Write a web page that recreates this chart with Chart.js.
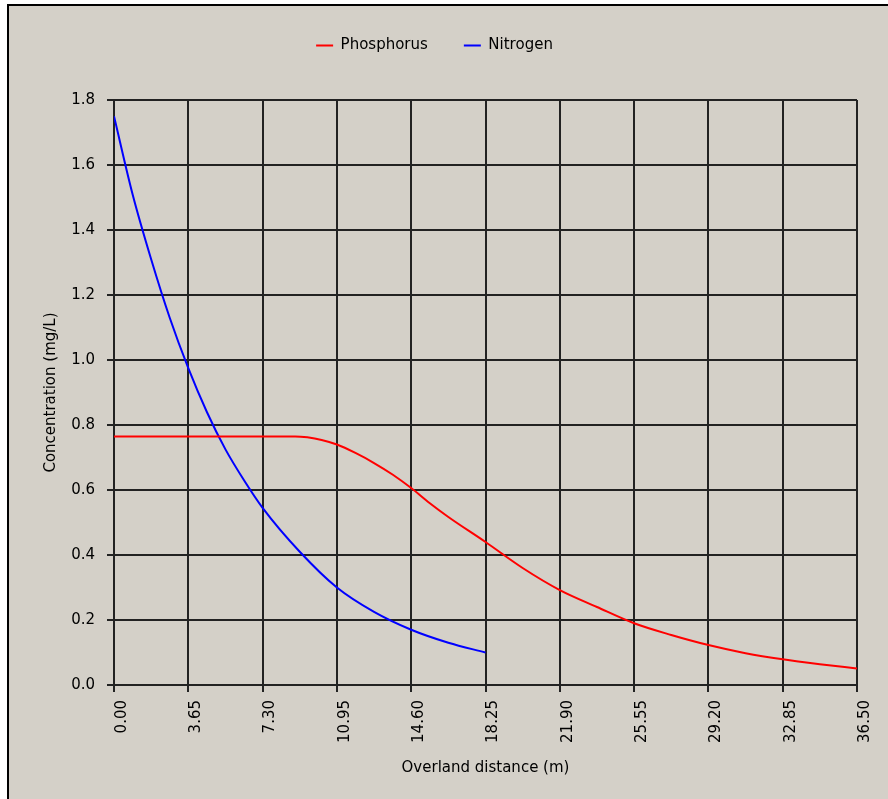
<!DOCTYPE html>
<html>
<head>
<meta charset="utf-8">
<title>Overland distance</title>
<script src="https://cdn.jsdelivr.net/npm/chart.js@4/dist/chart.umd.min.js"></script>
<style>
  html, body { margin: 0; padding: 0; background: #fff; }
  body { width: 888px; height: 799px; position: relative; overflow: hidden; }
  .frame {
    position: absolute; left: 7px; top: 4px; right: 0; bottom: 0;
    background: #d4d0c8;
    border-left: 2px solid #000;
    border-top: 2px solid #000;
  }
  #chart { position: absolute; left: 0; top: 0; }
</style>
</head>
<body>
<div class="frame"></div>
<canvas id="chart" width="888" height="799"></canvas>
<script>
// values
const nitrogenX = [0, 0.9125, 1.825, 2.7375, 3.65, 4.5625, 5.475, 6.3875, 7.3, 9.125, 10.95, 12.775, 14.6, 16.425, 18.25];
const nitrogenY = [1.75, 1.51, 1.31, 1.13, 0.975, 0.84, 0.725, 0.63, 0.545, 0.41, 0.30, 0.225, 0.17, 0.13, 0.10];

const phosphorusX = [0, 7.3, 8.9, 9.5, 10.2, 10.95, 11.86, 12.775, 13.7, 14.6, 15.5, 16.425, 18.25, 20.075, 21.9, 23.725, 25.55, 27.375, 29.2, 31.025, 32.85, 34.675, 36.5];
const phosphorusY = [0.765, 0.765, 0.765, 0.762, 0.754, 0.740, 0.714, 0.683, 0.647, 0.606, 0.56, 0.517, 0.44, 0.36, 0.292, 0.24, 0.19, 0.154, 0.123, 0.098, 0.079, 0.064, 0.051];

const xTicks = [0, 3.65, 7.3, 10.95, 14.6, 18.25, 21.9, 25.55, 29.2, 32.85, 36.5];
const yTicks = [0, 0.2, 0.4, 0.6, 0.8, 1.0, 1.2, 1.4, 1.6, 1.8];

const seriesNames = ['Phosphorus', 'Nitrogen'];
const seriesColors = ['#ff0000', '#0000ff'];

function toPoints(xs, ys) {
  return xs.map((x, i) => ({ x: x, y: ys[i] }));
}

Chart.defaults.font.family = '"DejaVu Sans", Verdana, sans-serif';
Chart.defaults.font.size = 15;
Chart.defaults.color = '#000';

// nudge the legend row a bit left, like the original
const legendShift = {
  id: 'legendShift',
  afterLayout(chart) {
    if (chart.legend) chart.legend.left -= 30;
  }
};

const gridColor = '#222';

new Chart(document.getElementById('chart'), {
  type: 'line',
  data: {
    datasets: [
      {
        label: seriesNames[0],
        data: toPoints(phosphorusX, phosphorusY),
        borderColor: seriesColors[0],
        backgroundColor: seriesColors[0],
        borderWidth: 2,
        pointRadius: 0,
        cubicInterpolationMode: 'monotone'
      },
      {
        label: seriesNames[1],
        data: toPoints(nitrogenX, nitrogenY),
        borderColor: seriesColors[1],
        backgroundColor: seriesColors[1],
        borderWidth: 2,
        pointRadius: 0,
        cubicInterpolationMode: 'monotone'
      }
    ]
  },
  options: {
    responsive: false,
    animation: false,
    events: [],
    layout: { padding: { top: 2, left: 42, right: 31, bottom: 22 } },
    plugins: {
      tooltip: { enabled: false },
      legend: {
        position: 'top',
        labels: {
          usePointStyle: true,
          pointStyle: 'line',
          pointStyleWidth: 17,
          padding: 36,
          color: '#000',
          font: { size: 15 }
        }
      },
      // empty title used as a gap between legend and plot
      title: {
        display: true,
        text: '',
        weight: 500,
        padding: 0,
        font: { size: 37, lineHeight: 1 }
      }
    },
    scales: {
      x: {
        type: 'linear',
        min: xTicks[0],
        max: xTicks[xTicks.length - 1],
        afterFit(scale) { scale.height = 92; },
        afterBuildTicks(scale) { scale.ticks = xTicks.map(v => ({ value: v })); },
        ticks: {
          autoSkip: false,
          minRotation: 90,
          maxRotation: 90,
          padding: 8,
          labelOffset: 8,
          color: '#000',
          callback: v => Number(v).toFixed(2)
        },
        grid: { color: gridColor, lineWidth: 2, tickLength: 7, tickColor: gridColor },
        border: { color: gridColor, width: 2 },
        title: {
          display: true,
          text: 'Overland distance (m)',
          color: '#000',
          padding: { top: 0, bottom: 0 }
        }
      },
      y: {
        type: 'linear',
        min: yTicks[0],
        max: yTicks[yTicks.length - 1],
        afterFit(scale) { scale.width = 72; },
        afterBuildTicks(scale) { scale.ticks = yTicks.map(v => ({ value: v })); },
        ticks: {
          padding: 12,
          color: '#000',
          callback: v => Number(v).toFixed(1)
        },
        grid: { color: gridColor, lineWidth: 2, tickLength: 7, tickColor: gridColor },
        border: { color: gridColor, width: 2 },
        title: {
          display: true,
          text: 'Concentration (mg/L)',
          color: '#000',
          padding: { top: 0, bottom: 0 }
        }
      }
    }
  },
  plugins: [legendShift]
});
</script>
</body>
</html>
